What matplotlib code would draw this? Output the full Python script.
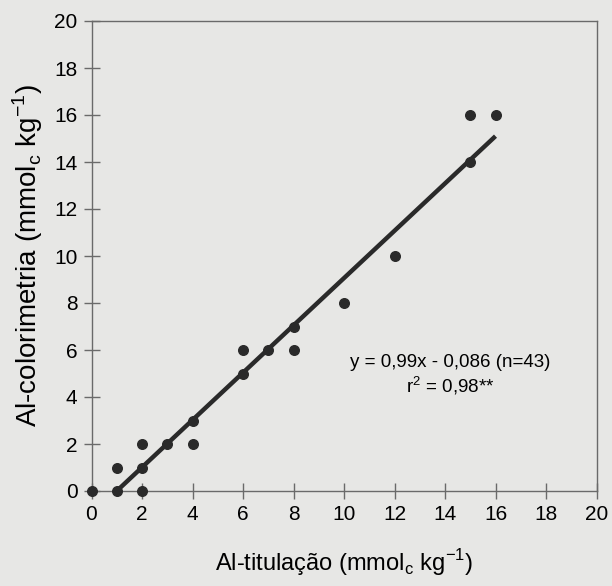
import numpy as np
import matplotlib.pyplot as plt

plt.rcParams['font.family'] = ['Liberation Sans', 'DejaVu Sans']

# pontos
al_tit = [0, 1, 1, 2, 2, 2, 3, 4, 4, 6, 6, 7, 8, 8, 10, 12, 15, 15, 16]
al_col = [0, 1, 0, 2, 1, 0, 2, 3, 2, 6, 5, 6, 7, 6, 8, 10, 16, 14, 16]

# reta de regressao como desenhada
reta_x = [0.9, 16.0]
reta_y = [-0.1, 15.1]

ticks = [0, 2, 4, 6, 8, 10, 12, 14, 16, 18, 20]

bg = '#e7e7e5'
axc = '#6a6a6a'

fig = plt.figure(figsize=(6.12, 5.86), dpi=100, facecolor=bg)
ax = fig.add_axes([91.5/612, 1 - 491/586, 505/612, 470/586], facecolor=bg)

ax.plot(reta_x, reta_y, color='#2a2a2a', lw=3.2, solid_capstyle='butt', zorder=2)
ax.scatter(al_tit, al_col, s=48, color='#2a2a2a', zorder=3, clip_on=False)

ax.set_xlim(0, 20)
ax.set_ylim(0, 20)
ax.set_xticks(ticks)
ax.set_yticks(ticks)
ax.tick_params(direction='inout', length=12, width=1, color=axc, labelsize=15, pad=4)
for s in ax.spines.values():
    s.set_color(axc)
    s.set_linewidth(1)

ax.set_xlabel(r'Al-titulação (mmol$_{\mathregular{c}}$ kg$^{\mathregular{-1}}$)', fontsize=17, labelpad=17)
ax.set_ylabel(r'Al-colorimetria (mmol$_{\mathregular{c}}$ kg$^{\mathregular{-1}}$)', fontsize=20, labelpad=7)

ax.text(14.2, 5.47, 'y = 0,99x - 0,086 (n=43)', fontsize=13.5, ha='center', va='center')
ax.text(14.2, 4.5, r'r$^{\mathregular{2}}$ = 0,98**', fontsize=13.5, ha='center', va='center')

fig.savefig('out.png', dpi=100, facecolor=bg)
